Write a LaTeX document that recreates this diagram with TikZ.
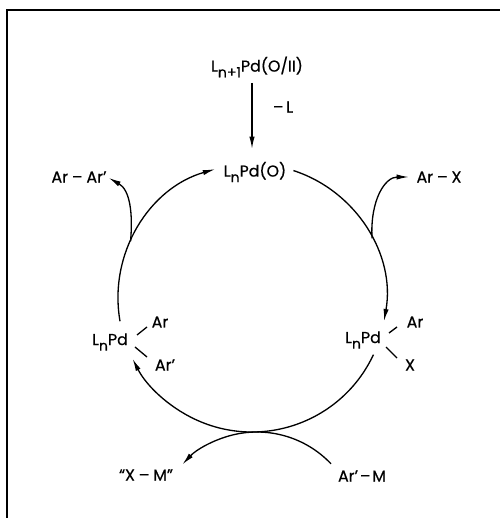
\documentclass[tikz,border=0pt]{standalone}
\usepackage{fontspec}
\setmainfont{Poppins}[FakeBold=0.6]
\usetikzlibrary{arrows.meta}
\newcommand{\lsb}[1]{\raisebox{-0.65ex}{\fontsize{8}{9}\selectfont #1}}
\newcommand{\dsh}{\hspace{2.2pt}–\hspace{2.2pt}}
\begin{document}
\begin{tikzpicture}[x=0.02cm,y=0.02cm,
  lbl/.style={font=\fontsize{9}{10}\selectfont, inner sep=0pt},
  arr/.style={-{Latex[length=7pt,width=3pt]}},
  line width=0.75pt]
\useasboundingbox (0,0) rectangle (500,518);
\begin{scope}
  \clip (0,0) rectangle (500,518);
  \draw[line width=1.5pt] (7,-20) rectangle (540,508);
\end{scope}
% nodes
\node[lbl] (pre) at (257,451) {L\lsb{n+1}Pd(O/II)};
\node[lbl] (mL) at (283,411) {–\hspace{1.5pt}L};
\node[lbl] (cat) at (255,346) {L\lsb{n}Pd(O)};
\node[lbl] (pdL) at (110,176) {L\lsb{n}Pd};
\node[lbl] (arL) at (160,196) {Ar};
\node[lbl] (arpL) at (165,153) {Ar'};
\node[lbl] (pdR) at (363,178) {L\lsb{n}Pd};
\node[lbl] (arR) at (415,196) {Ar};
\node[lbl] (xR) at (410,153) {X};
\node[lbl] (arx) at (439,341) {Ar\dsh X};
\node[lbl] (arar) at (79,341) {Ar\dsh Ar'};
\node[lbl] (xm) at (146,43) {``X\dsh M''};
\node[lbl] (arm) at (362,42) {Ar'\hspace{1pt}–\hspace{1pt}M};
% coordinates
\coordinate (cc) at (252,220);
\coordinate (cb) at (257,-16);
\coordinate (p1) at (252,435);
\coordinate (p2) at (252,369);
% ligand loss
\draw[arr] (p1) -- (p2);
% bonds
\draw (137,183) -- (147,191);
\draw (135,171) -- (147,161);
\draw (389,185) -- (397,191);
\draw (386,171) -- (397,160);
% cycle arcs
\draw[arr] (cc) ++(190:134) arc[start angle=190, end angle=106, radius=134];
\draw[arr] (cc) ++(72:134) arc[start angle=72, end angle=-10, radius=134];
\draw[arr] (cc) ++(-25:134) arc[start angle=-25, end angle=-153, radius=134];
% branches
\draw[arr, shorten >=4pt] (cc) ++(26.4:134) .. controls (370,318) and (385,341) .. (arx.west);
\draw[arr, shorten >=1pt] (cc) ++(155:134) .. controls (133,305) and (130,328) .. (arar.east);
\draw[arr] (cb) ++(43.5:102) arc[start angle=43.5, end angle=137, radius=102];
\end{tikzpicture}
\end{document}
